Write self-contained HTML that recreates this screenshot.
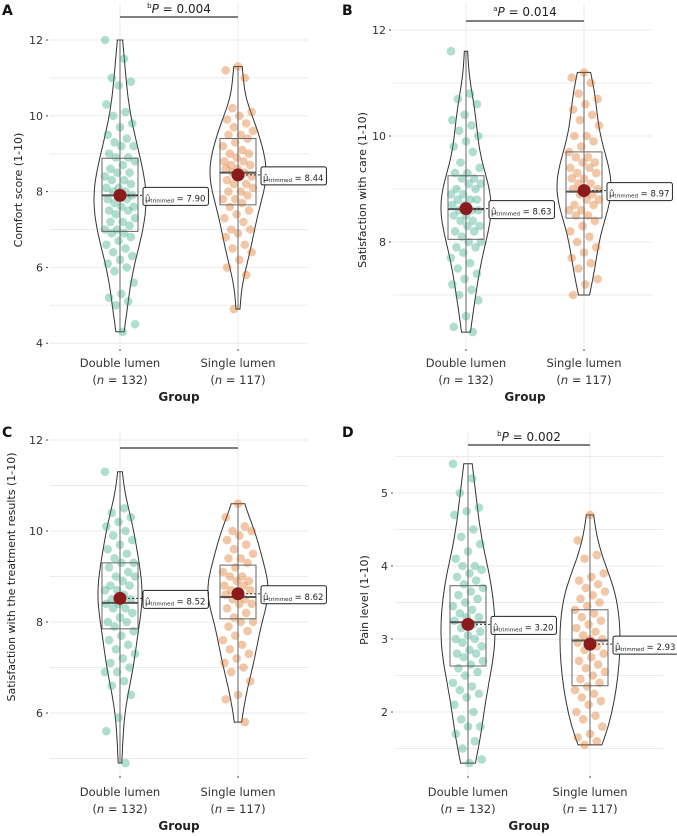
<!DOCTYPE html>
<html><head><meta charset="utf-8"><style>
body{margin:0;background:#fff}
svg{display:block;font-family:"DejaVu Sans","Liberation Sans",sans-serif}
</style></head><body>
<svg id="chart" width="677" height="836" viewBox="0 0 677 836"></svg>
<script>
// ---------- data ----------
const groups = ["Double lumen","Single lumen"];
const groupN = [132,117];
const aDouble=[12.0,11.5,11.0,10.9,10.8,10.3,10.1,10.0,9.8,9.7,9.5,9.4,9.3,9.2,9.2,9.0,8.9,8.9,8.8,8.7,8.6,8.5,8.5,8.4,8.3,8.3,8.2,8.1,8.1,8.0,8.0,7.9,7.9,7.8,7.8,7.7,7.6,7.6,7.5,7.5,7.4,7.3,7.2,7.2,7.1,7.0,7.0,6.9,6.9,6.8,6.7,6.6,6.5,6.4,6.3,6.2,6.1,6.0,5.9,5.6,5.3,5.2,5.1,5.0,4.5,4.3];
const aSingle=[11.3,11.2,11.0,10.2,10.1,10.0,9.9,9.8,9.7,9.6,9.5,9.5,9.4,9.3,9.2,9.1,9.0,9.0,8.9,8.8,8.8,8.7,8.7,8.6,8.6,8.5,8.5,8.4,8.4,8.3,8.2,8.2,8.1,8.0,8.0,7.9,7.8,7.8,7.7,7.6,7.5,7.4,7.3,7.2,7.0,7.0,6.9,6.8,6.6,6.5,6.4,6.2,6.0,5.8,4.9];
const bDouble=[11.6,10.8,10.7,10.6,10.4,10.3,10.2,10.1,10.0,9.9,9.8,9.7,9.5,9.4,9.3,9.3,9.2,9.2,9.1,9.1,9.0,9.0,8.9,8.9,8.8,8.8,8.8,8.7,8.7,8.6,8.6,8.6,8.5,8.5,8.4,8.4,8.3,8.3,8.2,8.2,8.1,8.0,8.0,7.9,7.9,7.8,7.7,7.6,7.5,7.4,7.3,7.2,7.1,7.0,6.9,6.6,6.4,6.3];
const bSingle=[11.2,11.1,11.0,10.8,10.7,10.6,10.5,10.4,10.3,10.2,10.0,10.0,9.9,9.8,9.7,9.6,9.6,9.5,9.5,9.4,9.4,9.3,9.3,9.2,9.2,9.1,9.1,9.0,9.0,9.0,8.9,8.9,8.8,8.8,8.7,8.7,8.6,8.6,8.5,8.5,8.4,8.3,8.2,8.1,8.0,7.9,7.8,7.7,7.6,7.5,7.3,7.2,7.0];
const cDouble=[11.3,10.5,10.4,10.3,10.2,10.1,10.0,9.9,9.8,9.7,9.6,9.5,9.4,9.3,9.3,9.2,9.1,9.0,9.0,8.9,8.8,8.8,8.7,8.7,8.6,8.5,8.5,8.4,8.4,8.3,8.3,8.2,8.1,8.0,8.0,7.9,7.8,7.7,7.6,7.5,7.4,7.3,7.2,7.1,7.0,6.9,6.9,6.7,6.6,6.4,5.9,5.6,4.9];
const cSingle=[10.6,10.3,10.1,10.0,10.0,9.9,9.8,9.7,9.6,9.5,9.4,9.4,9.3,9.2,9.1,9.0,9.0,8.9,8.9,8.8,8.8,8.7,8.7,8.6,8.6,8.5,8.5,8.4,8.4,8.3,8.2,8.1,8.0,8.0,7.9,7.8,7.7,7.6,7.5,7.4,7.3,7.2,7.1,7.0,6.9,6.7,6.4,6.3,5.8];
const dDouble=[5.4,5.2,5.0,4.8,4.75,4.7,4.5,4.4,4.3,4.2,4.1,4.0,4.0,3.95,3.9,3.85,3.8,3.75,3.7,3.65,3.6,3.55,3.5,3.45,3.4,3.35,3.3,3.3,3.25,3.2,3.15,3.1,3.05,3.0,3.0,2.95,2.9,2.85,2.8,2.8,2.75,2.7,2.65,2.6,2.55,2.5,2.4,2.35,2.3,2.25,2.2,2.1,2.0,1.9,1.8,1.8,1.7,1.6,1.5,1.35,1.3];
const dSingle=[4.7,4.35,4.15,4.1,3.9,3.85,3.8,3.75,3.7,3.65,3.6,3.55,3.5,3.45,3.4,3.35,3.3,3.25,3.2,3.15,3.1,3.05,3.0,3.0,2.95,2.9,2.85,2.8,2.75,2.7,2.65,2.6,2.55,2.5,2.45,2.4,2.35,2.3,2.25,2.2,2.15,2.1,2.0,1.95,1.9,1.8,1.7,1.65,1.6,1.55];
// box stats [q1, median, q3] and trimmed means
const aBox=[[6.95,7.9,8.88],[7.65,8.5,9.4]];
const bBox=[[8.05,8.62,9.25],[8.45,8.95,9.7]];
const cBox=[[7.85,8.42,9.3],[8.07,8.55,9.25]];
const dBox=[[2.63,3.23,3.73],[2.36,2.98,3.4]];
const aMean=[7.90,8.44], bMean=[8.63,8.97], cMean=[8.52,8.62], dMean=[3.20,2.93];
const aTicks=[4,6,8,10,12], bTicks=[8,10,12], cTicks=[6,8,10,12], dTicks=[2,3,4,5];
const aMinor=[5,7,9,11], bMinor=[7,9,11], cMinor=[5,7,9,11], dMinor=[1.5,2.5,3.5,4.5,5.5];
const pLabels=["b|P = 0.004","a|P = 0.014","","b|P = 0.002"];

// ---------- layout ----------
const panels=[
 {id:"a",letter:"A",lx:2,ly:15,x0:50,x1:308,yt:3,yb:348,refV:12,refY:40,ppu:37.9,cx:[120,238],bY:17,tY:13,title:"Comfort score (1-10)",tX:22,tC:190,labY:363,maxW:[26,28],pts:[aDouble,aSingle],box:aBox,mean:aMean,ticks:aTicks,minor:aMinor,p:pLabels[0]},
 {id:"b",letter:"B",lx:342,ly:15,x0:393,x1:653,yt:3,yb:348,refV:12,refY:30,ppu:53,cx:[466,584],bY:21,tY:16,title:"Satisfaction with care (1-10)",tX:366,tC:190,labY:363,maxW:[25,27],pts:[bDouble,bSingle],box:bBox,mean:bMean,ticks:bTicks,minor:bMinor,p:pLabels[1]},
 {id:"c",letter:"C",lx:2,ly:437,x0:50,x1:308,yt:432,yb:775,refV:12,refY:440,ppu:45.5,cx:[120,238],bY:448,tY:443,title:"Satisfaction with the treatment results (1-10)",tX:15,tC:577,labY:792,maxW:[22,30],pts:[cDouble,cSingle],box:cBox,mean:cMean,ticks:cTicks,minor:cMinor,p:pLabels[2]},
 {id:"d",letter:"D",lx:342,ly:437,x0:395,x1:663,yt:432,yb:775,refV:5,refY:493,ppu:73,cx:[468,590],bY:445,tY:441,title:"Pain level (1-10)",tX:368,tC:600,labY:792,maxW:[27,30],pts:[dDouble,dSingle],box:dBox,mean:dMean,ticks:dTicks,minor:dMinor,p:pLabels[3]}
];
const NS="http://www.w3.org/2000/svg";
const svg=document.getElementById("chart");
function mk(tag,attrs,parent){const e=document.createElementNS(NS,tag);for(const k in attrs)e.setAttribute(k,attrs[k]);(parent||svg).appendChild(e);return e;}
const fills=["#1b9e77","#d95f02"];

function kde(vals,lo,hi,n){
 const m=vals.reduce((a,b)=>a+b,0)/vals.length;
 const sd=Math.sqrt(vals.reduce((a,b)=>a+(b-m)*(b-m),0)/(vals.length-1));
 const bw=0.9*sd*Math.pow(vals.length,-0.2);
 const out=[];
 for(let i=0;i<=n;i++){const y=lo+(hi-lo)*i/n;let d=0;for(const v of vals){const z=(y-v)/bw;d+=Math.exp(-0.5*z*z);}out.push([y,d]);}
 return out;
}

panels.forEach(P=>{
 const g=mk("g",{});
 
 
 const Y=v=>P.refY+(P.refV-v)*P.ppu;
 P.minor.concat(P.ticks).forEach(t=>{const y=Y(t);if(y<P.yt||y>P.yb)return;
  const l=mk("line",{x1:P.x0,x2:P.x1,y1:y,y2:y,stroke:"#ebebeb","stroke-width":1},g);
  
  });
 P.cx.forEach(x=>{mk("line",{x1:x,x2:x,y1:P.yt,y2:P.yb,stroke:"#ebebeb","stroke-width":1},g);
  mk("line",{x1:x,x2:x,y1:P.yb+1,y2:P.yb+3,stroke:"#444","stroke-width":1},g);});
 P.ticks.forEach(t=>{const y=Y(t);
  mk("line",{x1:P.x0-4,x2:P.x0-2,y1:y,y2:y,stroke:"#444"},g);
  const tx=mk("text",{x:P.x0-7,y:y+4,"text-anchor":"end","font-size":11,fill:"#333"},g);tx.textContent=t;
  
  });
 const yt=mk("text",{x:P.tX,y:P.tC,"text-anchor":"middle","font-size":11,fill:"#222",transform:`rotate(-90 ${P.tX} ${P.tC})`},g);
 yt.textContent=P.title;
 
 
 const lt=mk("text",{x:P.lx,y:P.ly,"font-size":14,"font-weight":"bold",fill:"#111"},g);lt.textContent=P.letter;
 
 
 groups.forEach((name,i)=>{
  const t1=mk("text",{x:P.cx[i],y:P.labY+4,"text-anchor":"middle","font-size":11.5,fill:"#333"},g);t1.textContent=name;
  
  
  const t2=mk("text",{x:P.cx[i],y:P.labY+21,"text-anchor":"middle","font-size":11.5,fill:"#333"},g);
  t2.innerHTML='(<tspan font-style="italic">n</tspan> = '+groupN[i]+')';
  
  
 });
 const gx=mk("text",{x:(P.cx[0]+P.cx[1])/2,y:P.labY+38,"text-anchor":"middle","font-size":12,"font-weight":"bold",fill:"#222"},g);gx.textContent="Group";
 
 
 const br=mk("line",{x1:P.cx[0],x2:P.cx[1],y1:P.bY,y2:P.bY,stroke:"#333","stroke-width":1.3},g);
 
 
 if(P.p){const [sup,rest]=P.p.split("|");
  const pt=mk("text",{x:(P.cx[0]+P.cx[1])/2,y:P.tY,"text-anchor":"middle","font-size":12,fill:"#222"},g);
  pt.innerHTML='<tspan font-size="7" dy="-5">'+sup+'</tspan><tspan dy="5" font-style="italic">P</tspan>'+rest.slice(1);
  
  }
 [0,1].forEach(i=>{
  const vals=P.pts[i],cx=P.cx[i];
  const lo=Math.min(...vals),hi=Math.max(...vals);
  const dens=kde(vals,lo,hi,60);const dm=Math.max(...dens.map(d=>d[1]));
  let d="M";dens.forEach(([v,w],k)=>{d+=(k?" L":"")+(cx+w/dm*P.maxW[i]).toFixed(1)+","+Y(v).toFixed(1);});
  for(let k=dens.length-1;k>=0;k--){const [v,w]=dens[k];d+=" L"+(cx-w/dm*P.maxW[i]).toFixed(1)+","+Y(v).toFixed(1);}
  d+=" Z";
  const vi=mk("path",{d:d,fill:"none",stroke:"#333","stroke-width":1},g);
  
  
  vals.forEach((v,k)=>{const jx=(((k*37+i*11)%23)/22-0.5)*30;
   const c=mk("circle",{cx:cx+jx,cy:Y(v),r:4.3,fill:fills[i],"fill-opacity":0.35},g);
   
   });
  mk("line",{x1:cx,x2:cx,y1:Y(hi),y2:Y(lo),stroke:"#666","stroke-width":1},g);
  const [q1,md,q3]=P.box[i];
  const bx=mk("rect",{x:cx-18,y:Y(q3),width:36,height:Y(q1)-Y(q3),fill:"none",stroke:"#666","stroke-width":1},g);
  
  
  mk("line",{x1:cx-18,x2:cx+18,y1:Y(md),y2:Y(md),stroke:"#555","stroke-width":2},g);
  const my=Y(P.mean[i]);
  mk("line",{x1:cx,x2:cx+24,y1:my,y2:my,stroke:"#333","stroke-width":1,"stroke-dasharray":"2,2"},g);
  const mc=mk("circle",{cx:cx,cy:my,r:6.5,fill:"#8b1a1a"},g);
  
  
  const lb=mk("g",{},g);
  
  
  const rc=mk("rect",{x:cx+23,y:my-8,width:54,height:18,rx:2,fill:"#fff",stroke:"#222","stroke-width":1},lb);
  const lt2=mk("text",{x:cx+25,y:my+6,"font-size":8.5,fill:"#222"},lb);
  lt2.innerHTML='\u03BC\u0302<tspan font-size="5.5" dy="1">trimmed</tspan><tspan dy="-1"> = '+P.mean[i].toFixed(2)+'</tspan>';
  try{const w=lt2.getComputedTextLength();if(w>0)rc.setAttribute("width",w+5);}catch(e){}
 });
});
</script>
</body></html>
